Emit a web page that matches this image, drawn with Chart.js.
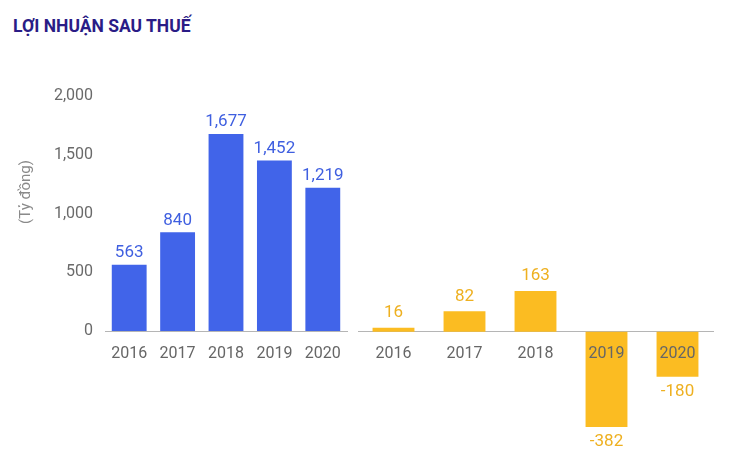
<!DOCTYPE html>
<html>
<head>
<meta charset="utf-8">
<script src="https://cdn.jsdelivr.net/npm/chart.js@4.4.0/dist/chart.umd.min.js"></script>
<style>
  html, body { margin: 0; padding: 0; background: #fff; }
  #wrap { position: relative; width: 732px; height: 460px; }
  #wrap canvas { position: absolute; left: 0; top: 0; }
  #title { position: absolute; left: 13px; top: 16px; font: bold 17.5px Roboto, sans-serif; color: #2a1c86; }
</style>
</head>
<body>
<div id="wrap">
  <div id="title">LỢI NHUẬN SAU THUẾ</div>
  <canvas id="leftChart" width="732" height="460"></canvas>
  <canvas id="rightChart" width="732" height="460"></canvas>
</div>
<script>
const years = ['2016', '2017', '2018', '2019', '2020'];
const profitBlue = [563, 840, 1677, 1452, 1219];
const profitYellow = [16, 82, 163, -382, -180];
const yTicksBlue = [0, 500, 1000, 1500, 2000];
const unitLabel = '(Tỷ đồng)';

const fmt = v => v.toLocaleString('en-US');

// draws value labels above / below each bar
const valueLabels = {
    id: 'valueLabels',
    afterDatasetsDraw(chart, args, opts) {
        const ctx = chart.ctx;
        const meta = chart.getDatasetMeta(0);
        const data = chart.data.datasets[0].data;
        ctx.save();
        ctx.font = '17px Roboto, sans-serif';
        ctx.fillStyle = opts.color;
        ctx.textAlign = 'center';
        ctx.textBaseline = 'middle';
        meta.data.forEach((bar, i) => {
            const v = data[i];
            const y = v >= 0 ? bar.y - opts.offset : bar.y + opts.offset;
            ctx.fillText(fmt(v), bar.x, y);
        });
        ctx.restore();
    }
};

// rotated unit label left of the y axis
const unitTitle = {
    id: 'unitTitle',
    afterDraw(chart) {
        const ctx = chart.ctx;
        ctx.save();
        ctx.translate(26, 192);
        ctx.rotate(-Math.PI / 2);
        ctx.font = '15px Roboto, sans-serif';
        ctx.fillStyle = '#8a8a8a';
        ctx.textAlign = 'center';
        ctx.textBaseline = 'middle';
        ctx.fillText(unitLabel, 0, 0);
        ctx.restore();
    }
};

Chart.defaults.font.family = 'Roboto, sans-serif';
Chart.defaults.animation = false;

new Chart(document.getElementById('leftChart'), {
    type: 'bar',
    data: {
        labels: years,
        datasets: [{
            data: profitBlue,
            backgroundColor: '#4164e9',
            barPercentage: 0.72,
            categoryPercentage: 1
        }]
    },
    options: {
        responsive: false,
        layout: { padding: { left: 10, right: 385, top: 96, bottom: 129 } },
        scales: {
            x: {
                position: { y: 0 },
                grid: { display: false },
                border: { color: '#b5b5b5' },
                ticks: { color: '#666', font: { size: 16 }, padding: 5 }
            },
            y: {
                min: 0,
                max: 2000,
                afterBuildTicks: s => { s.ticks = yTicksBlue.map(v => ({ value: v })); },
                afterFit: s => { s.width = 95; },
                grid: { display: false },
                border: { display: false },
                ticks: { color: '#6a6a6a', font: { size: 16 }, padding: 4, callback: v => fmt(v) }
            }
        },
        plugins: {
            legend: { display: false },
            tooltip: { enabled: false },
            valueLabels: { color: '#3f5fe0', offset: 12 }
        }
    },
    plugins: [valueLabels, unitTitle]
});

new Chart(document.getElementById('rightChart'), {
    type: 'bar',
    data: {
        labels: years,
        datasets: [{
            data: profitYellow,
            backgroundColor: '#fbbc22',
            barPercentage: 0.59,
            categoryPercentage: 1
        }]
    },
    options: {
        responsive: false,
        layout: { padding: { left: 358, right: 19, top: 207, bottom: 16 } },
        scales: {
            x: {
                position: { y: 0 },
                grid: { display: false },
                border: { color: '#b5b5b5' },
                ticks: { z: 1, color: '#666', font: { size: 16 }, padding: 5 }
            },
            y: {
                display: false,
                min: -450,
                max: 500
            }
        },
        plugins: {
            legend: { display: false },
            tooltip: { enabled: false },
            valueLabels: { color: '#eeb020', offset: 15 }
        }
    },
    plugins: [valueLabels]
});
</script>
</body>
</html>
